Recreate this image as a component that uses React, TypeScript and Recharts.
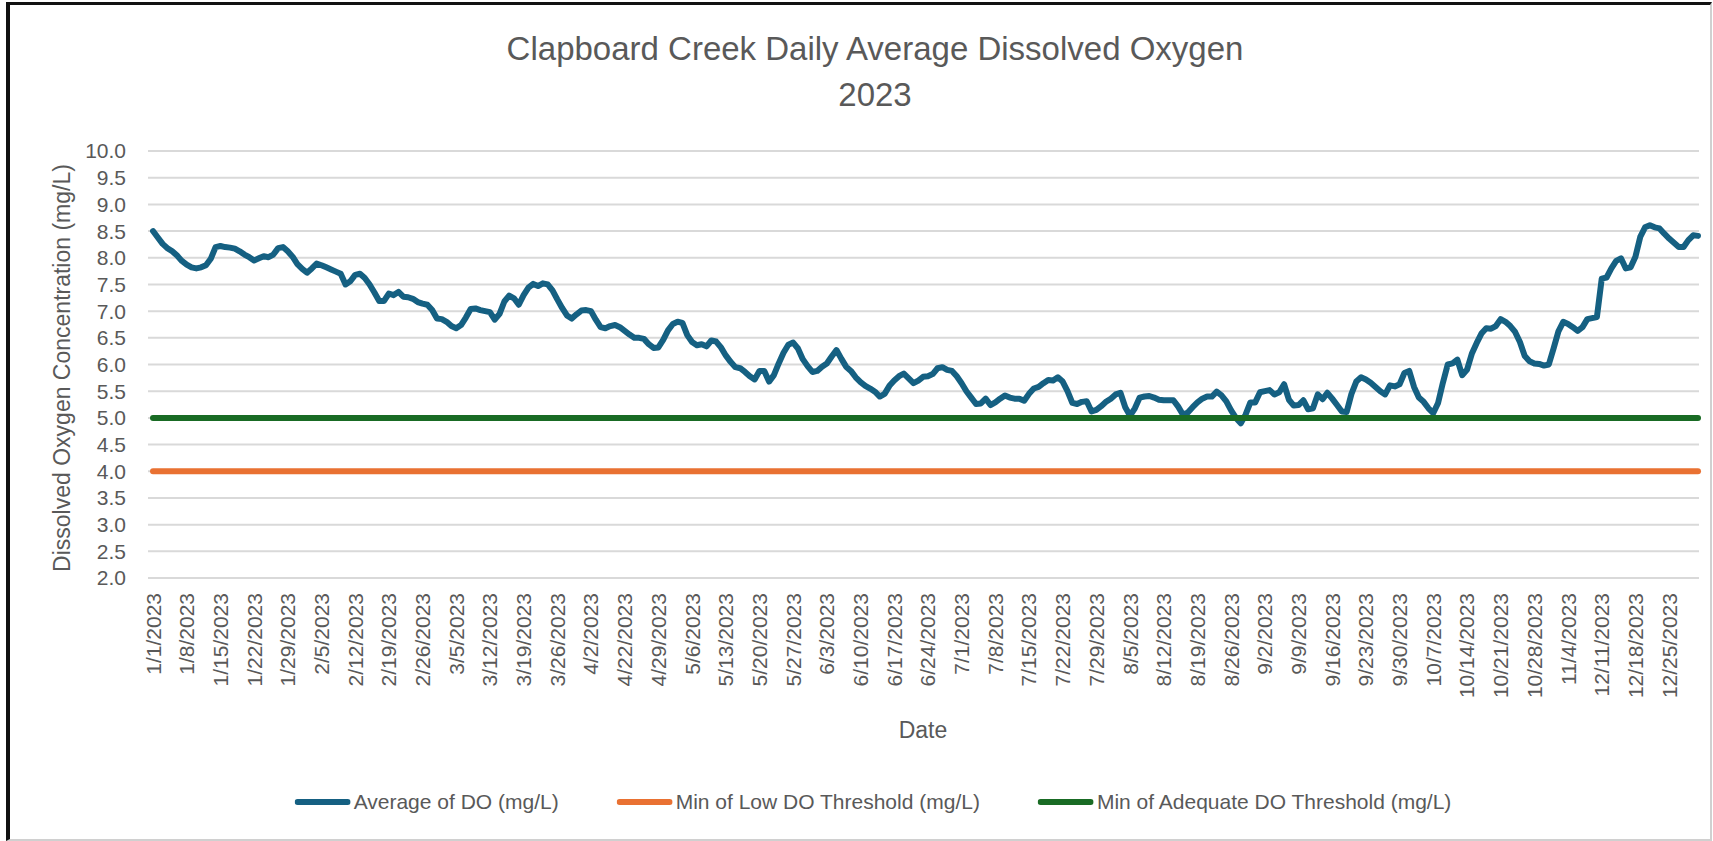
import React from "react";
import { LineChart, Line, XAxis, YAxis, CartesianGrid } from "recharts";

const FONT = "'Liberation Sans', Arial, sans-serif";
const TEXT = "#595959";

const BLUE = "#156082";
const ORANGE = "#E97132";
const GREEN = "#196B24";

// logger record for 2023 has two gaps with no readings
const YEAR = 2023;
const MISSING: [string, string][] = [
  ["2023-04-09", "2023-04-21"],
  ["2023-11-11", "2023-12-10"],
];

const LOW_DO_THRESHOLD = 4.0;
const ADEQUATE_DO_THRESHOLD = 5.0;

const yTicks = [2, 2.5, 3, 3.5, 4, 4.5, 5, 5.5, 6, 6.5, 7, 7.5, 8, 8.5, 9, 9.5, 10];

// daily average DO (mg/L), one row per week starting at the labelled date
const avgDO = [
  8.5, 8.38, 8.26, 8.18, 8.12, 8.04, 7.94, // 1/1
  7.87, 7.82, 7.8, 7.82, 7.86, 7.98, 8.2, // 1/8
  8.22, 8.2, 8.19, 8.17, 8.12, 8.06, 8.01, // 1/15
  7.95, 7.99, 8.03, 8.01, 8.06, 8.18, 8.2, // 1/22
  8.12, 8.02, 7.88, 7.79, 7.72, 7.8, 7.89, // 1/29
  7.86, 7.82, 7.78, 7.74, 7.7, 7.5, 7.56, // 2/5
  7.68, 7.7, 7.62, 7.5, 7.35, 7.19, 7.19, // 2/12
  7.33, 7.3, 7.36, 7.27, 7.26, 7.23, 7.17, // 2/19
  7.14, 7.12, 7.02, 6.86, 6.85, 6.8, 6.72, // 2/26
  6.68, 6.74, 6.88, 7.04, 7.05, 7.02, 7.0, // 3/5
  6.98, 6.84, 6.95, 7.18, 7.29, 7.24, 7.12, // 3/12
  7.3, 7.44, 7.51, 7.47, 7.52, 7.5, 7.39, // 3/19
  7.22, 7.06, 6.92, 6.86, 6.94, 7.01, 7.02, // 3/26
  7.0, 6.84, 6.7, 6.68, 6.72, 6.74, 6.7, // 4/2
  6.63, 6.56, 6.5, 6.5, 6.48, 6.38, 6.31, // 4/22
  6.32, 6.46, 6.64, 6.76, 6.8, 6.78, 6.55, // 4/29
  6.42, 6.36, 6.38, 6.34, 6.45, 6.43, 6.32, // 5/6
  6.17, 6.05, 5.95, 5.93, 5.86, 5.78, 5.72, // 5/13
  5.88, 5.88, 5.68, 5.8, 6.02, 6.22, 6.37, // 5/20
  6.41, 6.3, 6.1, 5.97, 5.86, 5.88, 5.96, // 5/27
  6.02, 6.15, 6.27, 6.11, 5.96, 5.88, 5.76, // 6/3
  5.67, 5.6, 5.55, 5.49, 5.4, 5.45, 5.6, // 6/10
  5.7, 5.78, 5.83, 5.74, 5.65, 5.7, 5.77, // 6/17
  5.78, 5.82, 5.93, 5.95, 5.9, 5.88, 5.78, // 6/24
  5.65, 5.5, 5.38, 5.26, 5.27, 5.36, 5.24, // 7/1
  5.29, 5.36, 5.42, 5.38, 5.36, 5.36, 5.32, // 7/8
  5.45, 5.55, 5.58, 5.65, 5.71, 5.7, 5.76, // 7/15
  5.68, 5.5, 5.28, 5.26, 5.3, 5.31, 5.12, // 7/22
  5.15, 5.22, 5.3, 5.36, 5.44, 5.47, 5.2, // 7/29
  5.04, 5.18, 5.38, 5.4, 5.41, 5.38, 5.34, // 8/5
  5.33, 5.33, 5.33, 5.21, 5.06, 5.1, 5.2, // 8/12
  5.29, 5.36, 5.4, 5.4, 5.49, 5.42, 5.31, // 8/19
  5.14, 5.0, 4.9, 5.06, 5.29, 5.29, 5.48, // 8/26
  5.5, 5.52, 5.44, 5.48, 5.63, 5.34, 5.23, // 9/2
  5.24, 5.33, 5.16, 5.18, 5.44, 5.35, 5.47, // 9/9
  5.36, 5.24, 5.12, 5.11, 5.45, 5.68, 5.76, // 9/16
  5.72, 5.66, 5.58, 5.5, 5.44, 5.61, 5.59, // 9/23
  5.63, 5.84, 5.88, 5.58, 5.38, 5.3, 5.18, // 9/30
  5.09, 5.28, 5.66, 6.0, 6.02, 6.09, 5.8, // 10/7
  5.9, 6.2, 6.4, 6.58, 6.68, 6.67, 6.72, // 10/14
  6.85, 6.8, 6.72, 6.61, 6.42, 6.16, 6.06, // 10/21
  6.02, 6.01, 5.98, 6.0, 6.3, 6.62, 6.8, // 10/28
  6.76, 6.7, 6.63, 6.7, 6.85, 6.87, 6.89, // 11/4
  7.61, 7.63, 7.8, 7.94, 7.99, 7.8, 7.82, // 12/11
  8.02, 8.39, 8.57, 8.61, 8.57, 8.55, 8.45, // 12/18
  8.36, 8.28, 8.2, 8.2, 8.33, 8.42, 8.41, // 12/25
];

function buildDates(): string[] {
  const out: string[] = [];
  const ranges = MISSING.map(([a, b]) => [new Date(a + "T00:00:00Z").getTime(), new Date(b + "T00:00:00Z").getTime()]);
  const d = new Date(Date.UTC(YEAR, 0, 1));
  while (d.getUTCFullYear() === YEAR) {
    const t = d.getTime();
    if (!ranges.some(([a, b]) => t >= a && t <= b)) {
      out.push(`${d.getUTCMonth() + 1}/${d.getUTCDate()}/${YEAR}`);
    }
    d.setUTCDate(d.getUTCDate() + 1);
  }
  return out;
}

const dates = buildDates();

const data = dates.map((date, i) => ({
  date,
  avg: avgDO[i],
  low: LOW_DO_THRESHOLD,
  adequate: ADEQUATE_DO_THRESHOLD,
}));

const legendItems = [
  { label: "Average of DO (mg/L)", color: BLUE },
  { label: "Min of Low DO Threshold (mg/L)", color: ORANGE },
  { label: "Min of Adequate DO Threshold (mg/L)", color: GREEN },
];

function DateTick({ x, y, payload }: any) {
  return (
    <text
      x={x}
      y={y}
      transform={`rotate(-90, ${x}, ${y})`}
      textAnchor="end"
      dominantBaseline="central"
      fill={TEXT}
      fontSize={21}
      fontFamily={FONT}
    >
      {payload.value}
    </text>
  );
}

export default function App() {
  return (
    <div
      style={{
        position: "absolute",
        left: 0,
        top: 0,
        width: 1713,
        height: 841,
        background: "#fff",
        fontFamily: FONT,
        color: TEXT,
        overflow: "hidden",
      }}
    >
      {/* frame */}
      <div
        style={{
          position: "absolute",
          left: 6,
          top: 2,
          width: 1700,
          height: 834,
          borderLeft: "4px solid #111",
          borderTop: "3px solid #111",
          borderRight: "2px solid #d0d0d0",
          borderBottom: "2px solid #d0d0d0",
        }}
      />

      <LineChart
        width={1713}
        height={841}
        data={data}
        margin={{ top: 151, right: 14, left: 0, bottom: 0 }}
        style={{ position: "absolute", left: 0, top: 0 }}
      >
        <CartesianGrid vertical={false} stroke="#d9d9d9" strokeWidth={2} />
        <XAxis
          dataKey="date"
          interval={6}
          height={263}
          tickSize={0}
          tickMargin={15}
          axisLine={false}
          tickLine={false}
          padding={{ left: 5, right: 1 }}
          tick={<DateTick />}
        />
        <YAxis
          domain={[2, 10]}
          ticks={yTicks}
          interval={0}
          width={148}
          tickSize={0}
          tickMargin={22}
          axisLine={false}
          tickLine={false}
          tickFormatter={(v: number) => v.toFixed(1)}
          tick={{ fill: TEXT, fontSize: 21, fontFamily: FONT }}
        />
        <Line
          dataKey="avg"
          stroke={BLUE}
          strokeWidth={6}
          dot={false}
          strokeLinecap="round"
          strokeLinejoin="round"
          isAnimationActive={false}
        />
        <Line
          dataKey="low"
          stroke={ORANGE}
          strokeWidth={6}
          dot={false}
          strokeLinecap="round"
          isAnimationActive={false}
        />
        <Line
          dataKey="adequate"
          stroke={GREEN}
          strokeWidth={6}
          dot={false}
          strokeLinecap="round"
          isAnimationActive={false}
        />
      </LineChart>

      {/* title */}
      <div
        style={{
          position: "absolute",
          left: 875,
          top: 26,
          transform: "translateX(-50%)",
          fontSize: 33,
          lineHeight: "46px",
          textAlign: "center",
          whiteSpace: "nowrap",
        }}
      >
        Clapboard Creek Daily Average Dissolved Oxygen
        <br />
        2023
      </div>

      {/* axis titles */}
      <div
        style={{
          position: "absolute",
          left: 62,
          top: 368,
          transform: "translate(-50%, -50%) rotate(-90deg)",
          fontSize: 23,
          whiteSpace: "nowrap",
        }}
      >
        Dissolved Oxygen Concentration (mg/L)
      </div>
      <div
        style={{
          position: "absolute",
          left: 923,
          top: 730,
          transform: "translate(-50%, -50%)",
          fontSize: 23,
          whiteSpace: "nowrap",
        }}
      >
        Date
      </div>

      {/* legend */}
      <div
        style={{
          position: "absolute",
          left: 873,
          top: 802,
          transform: "translate(-50%, -50%)",
          display: "flex",
          alignItems: "center",
          gap: 58,
          fontSize: 21,
          whiteSpace: "nowrap",
        }}
      >
        {legendItems.map((item) => (
          <div key={item.label} style={{ display: "flex", alignItems: "center" }}>
            <svg width={56} height={8} style={{ marginRight: 3 }}>
              <line x1={3} y1={4} x2={53} y2={4} stroke={item.color} strokeWidth={6} strokeLinecap="round" />
            </svg>
            <span>{item.label}</span>
          </div>
        ))}
      </div>
    </div>
  );
}
